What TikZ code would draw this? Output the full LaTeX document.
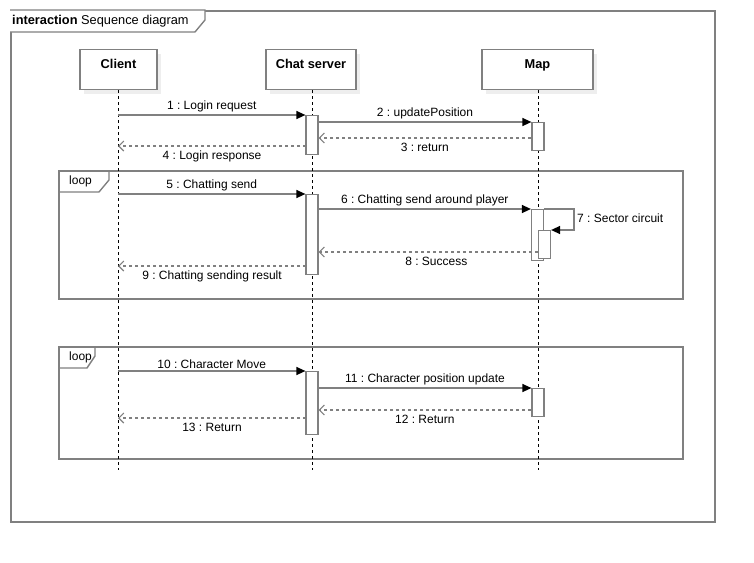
\documentclass[tikz,border=0pt]{standalone}
\usepackage{fontspec}
\setmainfont{Liberation Sans}
\usetikzlibrary{positioning, arrows.meta, calc, shadows}
\definecolor{framegray}{RGB}{128,128,128}
\definecolor{shadowgray}{RGB}{238,238,238}
\frenchspacing

\begin{document}
\begin{tikzpicture}[x=1pt, y=-1pt]
	% Define styles
	\tikzset{
		head/.style={rectangle, draw=framegray, line width=1.4pt, fill=white, minimum height=40pt, inner sep=0pt, anchor=north,
			drop shadow={shadow xshift=4pt, shadow yshift=-4pt, fill=shadowgray, opacity=1}},
		headtext/.style={font=\fontsize{12.8}{15}\selectfont\bfseries, text height=9.5pt, text depth=3pt, yshift=4.5pt},
		act/.style={rectangle, draw=framegray, line width=1.2pt, fill=white, minimum width=12pt, inner sep=0pt, anchor=north},
		lifeline/.style={draw=black, line width=0.9pt, dash pattern=on 3pt off 3pt},
		frame/.style={rectangle, draw=framegray, line width=1.7pt, inner sep=0pt, anchor=north west},
		lbl/.style={font=\fontsize{12}{14}\selectfont, inner sep=2pt},
		under/.style={lbl, below=2.5pt},
		msg/.style={draw=framegray, line width=1.3pt, -{Triangle[length=9pt, width=8pt, black]}},
		ret/.style={draw=framegray, line width=1.1pt, dash pattern=on 3pt off 3pt, -{Straight Barb[length=5pt, width=10pt, framegray]}}
	}
	\useasboundingbox (0,0) rectangle (754,562);

	% Frames
	\node[frame, minimum width=704pt, minimum height=511pt] (sd) at (10,10) {};
	\draw[framegray, line width=1.4pt, fill=white] (sd.north west) -- ++(195,0) -- ++(0,10) -- ++(-10,12) -- ++(-185,0);
	\node[anchor=west, font=\fontsize{12.8}{15}\selectfont, inner sep=1pt] (sdname) at (11,21) {\textbf{interaction} Sequence diagram};

	\node[frame, minimum width=624pt, minimum height=128pt] (loopa) at (58,170) {};
	\draw[framegray, line width=1.4pt] (loopa.north west) ++(51,0) -- ++(0,10) -- ++(-10,12) -- ++(-41,0);
	\node[lbl, anchor=west] (loopaname) at (67,181) {loop};

	\node[frame, minimum width=624pt, minimum height=112pt] (loopb) at (58,346) {};
	\draw[framegray, line width=1.4pt] (loopb.north west) ++(37,0) -- ++(0,10) -- ++(-8,12) -- ++(-29,0);
	\node[lbl, anchor=west] (loopbname) at (67,357) {loop};

	% Lifelines
	\node[head, minimum width=77pt, label={[headtext]center:Client}] (client) at (118.5,49) {};
	\node[head, minimum width=90pt, label={[headtext]center:Chat server}] (server) at (311,49) {};
	\node[head, minimum width=111pt, label={[headtext]center:Map}] (map) at (537.5,49) {};

	\coordinate (clientend) at (118,470);
	\coordinate (serverend) at (312,470);
	\coordinate (mapend) at (538,470);
	\draw[lifeline] (client.south -| clientend) -- (clientend);
	\draw[lifeline] (server.south -| serverend) -- (serverend);
	\draw[lifeline] (map.south -| mapend) -- (mapend);

	% Activations
	\node[act, minimum height=39pt] (sa1) at (312,115) {};
	\node[act, minimum height=28pt] (ma1) at (538,122) {};
	\node[act, minimum height=80pt] (sa2) at (312,194) {};
	\node[act, minimum height=51pt] (ma2) at (537.5,209) {};
	\node[act, minimum height=28pt] (ma2in) at (544.5,230) {};
	\node[act, minimum height=63pt] (sa3) at (312,371) {};
	\node[act, minimum height=28pt] (ma3) at (538,388) {};

	% Message points
	\coordinate (c1) at (118,115);
	\coordinate (m3) at (531,138);
	\coordinate (m4) at (306,146);
	\coordinate (c5) at (118,194);
	\coordinate (s7) at (574,230);
	\coordinate (m8) at (538,252);
	\coordinate (m9) at (306,266);
	\coordinate (c10) at (118,371);
	\coordinate (m12) at (531,410);
	\coordinate (m13) at (306,418);

	% Arrows
	\draw[msg] (c1) -- node[lbl, above] {1 : Login request} (sa1.north west);
	\draw[msg] (sa1.east |- ma1.north) -- node[lbl, above] {2 : updatePosition} (ma1.north west);
	\draw[ret] (m3) -- node[under] {3 : return} (sa1.east |- m3);
	\draw[ret] (m4) -- node[under] {4 : Login response} (clientend |- m4);

	\draw[msg] (c5) -- node[lbl, above] {5 : Chatting send} (sa2.north west);
	\draw[msg] (sa2.east |- ma2.north) -- node[lbl, above] {6 : Chatting send around player} (ma2.north west);
	\draw[msg] (ma2.north east) -| (s7) -- (ma2in.north east);
	\node[lbl, anchor=west] (l7) at (575,218) {7 : Sector circuit};
	\draw[ret] (m8) -- node[under, xshift=8pt] {8 : Success} (sa2.east |- m8);
	\draw[ret] (m9) -- node[under] {9 : Chatting sending result} (clientend |- m9);

	\draw[msg] (c10) -- node[lbl, above] {10 : Character Move} (sa3.north west);
	\draw[msg] (sa3.east |- ma3.north) -- node[lbl, above] {11 : Character position update} (ma3.north west);
	\draw[ret] (m12) -- node[under] {12 : Return} (sa3.east |- m12);
	\draw[ret] (m13) -- node[under] {13 : Return} (clientend |- m13);
\end{tikzpicture}
\end{document}
